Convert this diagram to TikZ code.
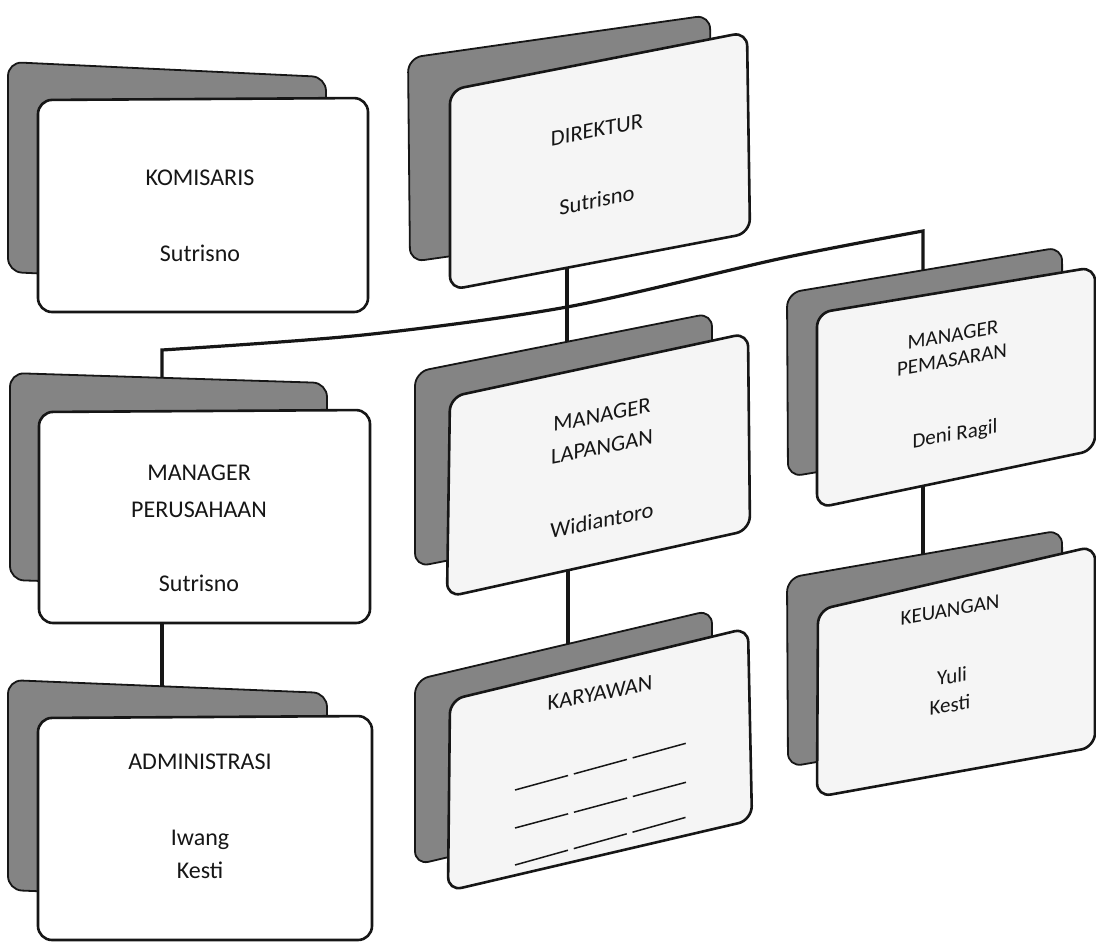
\documentclass[tikz,border=0pt]{standalone}
\usepackage{fontspec}
\setmainfont{Carlito}
\usetikzlibrary{calc}

\definecolor{cardgray}{RGB}{132,132,132}
\definecolor{ink}{RGB}{22,22,22}
\definecolor{paper}{RGB}{245,245,245}

\tikzset{
  backcard/.style={fill=cardgray, draw=ink, line width=1.8pt, rounded corners=14pt},
  frontcard/.style={fill=white, draw=ink, line width=2.6pt, rounded corners=14pt},
  conn/.style={draw=ink, line width=3.2pt},
  lefttext/.style={font=\fontsize{24}{28}\selectfont, text=ink, inner sep=0pt},
  midtext/.style={font=\fontsize{22.5}{27}\selectfont, text=ink, inner sep=0pt, yslant=0.2},
  righttext/.style={font=\fontsize{21}{25}\selectfont, text=ink, inner sep=0pt, yslant=0.18},
  formline/.style={draw=ink, line width=1.5pt, dash pattern=on 55pt off 6pt},
}

% A card: grey back sheet (TL, TR, BL) behind a white front sheet (TL, TR, BR, BL)
\newcommand\orgcard[9][]{%
  \coordinate (#2-bTL) at #3;
  \coordinate (#2-bTR) at #4;
  \coordinate (#2-bBL) at #5;
  \coordinate (#2-fTL) at #6;
  \coordinate (#2-fTR) at #7;
  \coordinate (#2-fBR) at #8;
  \coordinate (#2-fBL) at #9;
  \draw[backcard] (#2-bTL) -- (#2-bTR) -- ($(#2-bTR)+(#2-bBL)-(#2-bTL)$) -- (#2-bBL) -- cycle;
  \draw[frontcard,#1] (#2-fTL) -- (#2-fTR) -- (#2-fBR) -- (#2-fBL) -- cycle;
}

\begin{document}
\begin{tikzpicture}[x=1pt, y=-1pt]
\useasboundingbox (0,0) rectangle (1096,947);

% connector end points
\coordinate (jL) at (162,350);
\coordinate (k1) at (363,335);
\coordinate (jM) at (567,307);
\coordinate (k2) at (783,258);
\coordinate (jR) at (923,231);
\coordinate (per-in) at (162,385);
\coordinate (pem-in) at (923,275);
\coordinate (dir-out) at (567,265);
\coordinate (lap-in) at (567,345);
\coordinate (per-out) at (162,615);
\coordinate (adm-in) at (162,695);
\coordinate (lap-out) at (568,565);
\coordinate (kar-in) at (568,645);
\coordinate (pem-out) at (923,480);
\coordinate (keu-in) at (923,565);

% connectors (drawn first, cards sit on top)
\draw[conn] (per-in) -- plot[smooth] coordinates {(jL) (k1) (jM) (k2) (jR)} -- (pem-in);
\draw[conn] (dir-out) -- (lap-in);
\draw[conn] (per-out) -- (adm-in);
\draw[conn] (lap-out) -- (kar-in);
\draw[conn] (pem-out) -- (keu-in);

% left column
\orgcard{kom}{(8,62)}{(326,77)}{(8,272)}{(38,100)}{(368,98)}{(368,312)}{(38,312)}
\orgcard{per}{(10,373)}{(327,383)}{(10,580)}{(39,412)}{(370,410)}{(370,623)}{(39,623)}
\orgcard{adm}{(8,680)}{(327,693)}{(8,890)}{(38,718)}{(372,716)}{(372,940)}{(38,940)}

% middle column
\orgcard[fill=paper]{dir}{(408,58)}{(710,15)}{(410,262)}{(450,90)}{(747,32)}{(750,233)}{(450,290)}
\orgcard[fill=paper]{lap}{(415,372)}{(712,313)}{(415,567)}{(450,397)}{(748,333)}{(750,530)}{(447,597)}
\orgcard[fill=paper]{kar}{(415,680)}{(712,610)}{(415,865)}{(450,700)}{(748,628)}{(752,820)}{(448,891)}

% right column
\orgcard[fill=paper]{pem}{(787,293)}{(1062,247)}{(788,477)}{(817,313)}{(1095,267)}{(1095,450)}{(817,508)}
\orgcard[fill=paper]{keu}{(787,578)}{(1062,530)}{(788,767)}{(818,610)}{(1095,546)}{(1095,747)}{(817,797)}

% labels
\node[lefttext] (kom1) at (200,178) {KOMISARIS};
\node[lefttext] (kom2) at (200,253) {Sutrisno};
\node[lefttext] (per1) at (199,473) {MANAGER};
\node[lefttext] (per2) at (199,510) {PERUSAHAAN};
\node[lefttext] (per3) at (199,583) {Sutrisno};
\node[lefttext] (adm1) at (200,762) {ADMINISTRASI};
\node[lefttext] (adm2) at (200,840) {Iwang};
\node[lefttext] (adm3) at (200,870) {Kesti};

\node[midtext] (dir1) at (597,130) {DIREKTUR};
\node[midtext] (dir2) at (597,200) {Sutrisno};
\node[midtext] (lap1) at (602,415) {MANAGER};
\node[midtext] (lap2) at (602,447) {LAPANGAN};
\node[midtext] (lap3) at (602,520) {Widiantoro};
\node[midtext] (kar1) at (600,693) {KARYAWAN};

\node[righttext] (pem1) at (953,335) {MANAGER};
\node[righttext] (pem2) at (952,360) {PEMASARAN};
\node[righttext] (pem3) at (955,435) {Deni Ragil};
\node[righttext] (keu1) at (950,610) {KEUANGAN};
\node[righttext] (keu2) at (952,676) {Yuli};
\node[righttext] (keu3) at (950,705) {Kesti};

% blank lines on the staff card
\draw[formline] (515,790) -- (687,743);
\draw[formline] (515,828) -- (687,782);
\draw[formline] (515,865) -- (687,817);
\end{tikzpicture}
\end{document}
